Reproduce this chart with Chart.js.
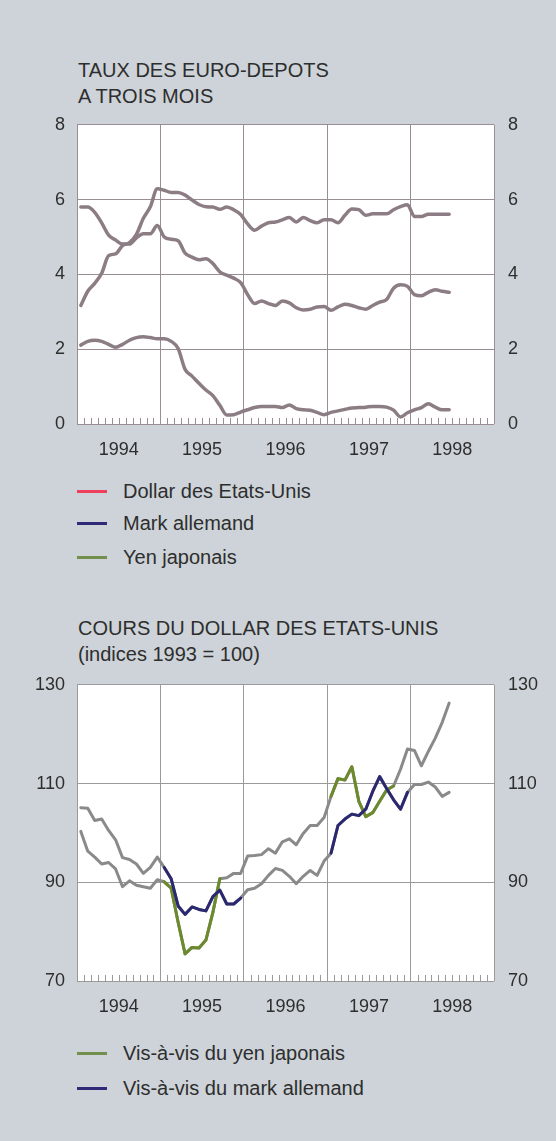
<!DOCTYPE html>
<html>
<head>
<meta charset="utf-8">
<script src="https://cdn.jsdelivr.net/npm/chart.js@4.4.1/dist/chart.umd.min.js"></script>
<style>
    body {
        margin: 0;
        width: 556px;
        height: 1141px;
        overflow: hidden;
        background: #cdd3d8;
        font-family: "Liberation Sans", Arial, sans-serif;
        color: #2e2e2e;
    }
    .title {
        position: absolute;
        left: 78px;
        font-size: 20px;
        line-height: 26px;
        white-space: nowrap;
    }
    .chart-box {
        position: absolute;
        left: 0;
        width: 556px;
        height: 370px;
    }
    .legend-item {
        position: absolute;
        left: 77px;
        font-size: 20px;
        line-height: 26px;
        white-space: nowrap;
    }
    .legend-line {
        display: inline-block;
        width: 30px;
        height: 3px;
        vertical-align: middle;
        margin-right: 16px;
        position: relative;
        top: -1px;
    }
</style>
</head>
<body>

<div class="title" style="top:57px">TAUX DES EURO-DEPOTS<br>A TROIS MOIS</div>
<div class="chart-box" style="top:100px"><canvas id="ratesChart" width="556" height="370"></canvas></div>
<div id="ratesLegend"></div>

<div class="title" style="top:615px">COURS DU DOLLAR DES ETATS-UNIS<br>(indices 1993 = 100)</div>
<div class="chart-box" style="top:660px"><canvas id="dollarChart" width="556" height="370"></canvas></div>
<div id="dollarLegend"></div>

<script>
// monthly data, Jan 1994 .. Jun 1998
var yearLabels = ['1994', '1995', '1996', '1997', '1998'];

// three-month euro-deposit rates (%)
var dollarRates = [3.17, 3.55, 3.76, 4.03, 4.50, 4.55, 4.77, 4.85, 5.07, 5.50, 5.81, 6.29,
    6.25, 6.19, 6.19, 6.12, 5.99, 5.87, 5.81, 5.80, 5.74, 5.80, 5.73, 5.60,
    5.35, 5.18, 5.29, 5.38, 5.40, 5.46, 5.52, 5.40, 5.52, 5.44, 5.38, 5.46,
    5.46, 5.38, 5.58, 5.75, 5.73, 5.58, 5.62, 5.62, 5.62, 5.73, 5.81, 5.86,
    5.55, 5.55, 5.61, 5.61, 5.61, 5.61];
var markRates = [5.80, 5.80, 5.66, 5.38, 5.05, 4.92, 4.81, 4.81, 4.98, 5.09, 5.09, 5.31,
    5.00, 4.94, 4.90, 4.57, 4.46, 4.39, 4.42, 4.29, 4.07, 3.98, 3.90, 3.78,
    3.46, 3.22, 3.29, 3.22, 3.17, 3.29, 3.24, 3.11, 3.05, 3.07, 3.13, 3.14,
    3.04, 3.13, 3.20, 3.17, 3.11, 3.07, 3.17, 3.26, 3.33, 3.63, 3.72, 3.68,
    3.46, 3.43, 3.52, 3.59, 3.55, 3.52];
var yenRates = [2.11, 2.21, 2.24, 2.21, 2.13, 2.05, 2.13, 2.24, 2.31, 2.33, 2.31, 2.28,
    2.28, 2.21, 2.02, 1.46, 1.28, 1.09, 0.91, 0.76, 0.50, 0.24, 0.25, 0.32,
    0.38, 0.44, 0.47, 0.47, 0.47, 0.44, 0.51, 0.41, 0.38, 0.37, 0.31, 0.25,
    0.31, 0.35, 0.39, 0.43, 0.44, 0.45, 0.47, 0.47, 0.45, 0.37, 0.19, 0.30,
    0.38, 0.44, 0.54, 0.45, 0.38, 0.38];

// US dollar exchange rate (1993 = 100)
var yenIndex = [100.3, 96.3, 95.1, 93.7, 94.0, 92.7, 89.1, 90.3, 89.4, 89.1, 88.8, 90.5,
    90.1, 88.8, 81.9, 75.5, 76.8, 76.7, 78.3, 83.9, 90.7, 90.9, 91.8, 91.8,
    95.3, 95.4, 95.6, 96.8, 95.9, 98.2, 98.8, 97.6, 99.9, 101.5, 101.5, 103.1,
    107.4, 111.0, 110.7, 113.4, 106.4, 103.3, 104.1, 106.4, 108.7, 109.5, 112.9, 117.0,
    116.7, 113.6, 116.5, 119.2, 122.4, 126.3];
var markIndex = [105.1, 105.0, 102.5, 102.8, 100.5, 98.6, 95.0, 94.6, 93.7, 91.8, 93.0, 95.1,
    93.0, 90.7, 85.2, 83.5, 85.0, 84.5, 84.2, 87.1, 88.4, 85.6, 85.6, 86.8,
    88.5, 88.8, 89.7, 91.4, 92.8, 92.4, 91.2, 89.7, 91.2, 92.4, 91.4, 94.3,
    95.9, 101.5, 102.8, 103.8, 103.5, 104.8, 108.4, 111.4, 109.0, 106.7, 104.8, 108.2,
    109.8, 109.8, 110.3, 109.3, 107.4, 108.2];

// month ranges drawn in colour on the second chart
var yenHighlight = [[12, 20], [36, 45]];
var markHighlight = [[12, 23], [36, 47]];

var FONT = '"Liberation Sans", Arial, sans-serif';

function inRanges(i, ranges) {
    for (var k = 0; k < ranges.length; k++) {
        if (i >= ranges[k][0] && i <= ranges[k][1]) return true;
    }
    return false;
}

function toPoints(values, ranges) {
    return values.map(function (v, i) {
        var keep = !ranges || inRanges(i, ranges);
        return { x: i + 0.55, y: keep ? v : null };
    });
}

// white plot area + small monthly ticks along the bottom
var plotPlugin = {
    id: 'plotPlugin',
    beforeDraw: function (chart) {
        var a = chart.chartArea;
        var ctx = chart.ctx;
        ctx.save();
        ctx.fillStyle = '#fff';
        ctx.fillRect(a.left, a.top, a.right - a.left, a.bottom - a.top);
        ctx.restore();
    },
    beforeDatasetsDraw: function (chart, args, opts) {
        var a = chart.chartArea;
        var x = chart.scales.x;
        var ctx = chart.ctx;
        ctx.save();
        ctx.strokeStyle = opts.color;
        ctx.lineWidth = 1;
        ctx.beginPath();
        for (var m = 1; m < 60; m++) {
            if (m % 12 === 0) continue;
            var px = Math.round(x.getPixelForValue(m)) + 0.5;
            ctx.moveTo(px, a.bottom);
            ctx.lineTo(px, a.bottom - 6);
        }
        ctx.stroke();
        ctx.restore();
    }
};

function buildOptions(yMin, yMax, step, gridColor, topPad, xHeight) {
    var tickFont = { family: FONT, size: 18 };
    return {
        responsive: false,
        animation: false,
        layout: { padding: { top: topPad, left: 0, right: 0, bottom: 0 } },
        plugins: {
            legend: { display: false },
            tooltip: { enabled: false },
            plotPlugin: { color: gridColor }
        },
        elements: {
            point: { radius: 0 },
            line: { tension: 0, borderCapStyle: 'round', borderJoinStyle: 'round' }
        },
        scales: {
            x: {
                type: 'linear',
                min: 0,
                max: 60,
                afterFit: function (scale) { scale.height = xHeight; },
                border: { display: false },
                grid: {
                    drawTicks: false,
                    lineWidth: 1,
                    color: function (ctx) {
                        return ctx.tick && ctx.tick.value % 12 === 0 ? gridColor : 'rgba(0,0,0,0)';
                    }
                },
                ticks: {
                    stepSize: 6,
                    autoSkip: false,
                    maxRotation: 0,
                    padding: 15,
                    color: '#2e2e2e',
                    font: tickFont,
                    callback: function (value) {
                        if (value % 12 === 6) return yearLabels[(value - 6) / 12];
                        return '';
                    }
                }
            },
            y: {
                position: 'left',
                min: yMin,
                max: yMax,
                afterFit: function (scale) { scale.width = 77; },
                border: { display: false },
                grid: { drawTicks: false, color: gridColor, lineWidth: 1 },
                ticks: { stepSize: step, padding: 12, color: '#2e2e2e', font: tickFont }
            },
            y2: {
                position: 'right',
                min: yMin,
                max: yMax,
                afterFit: function (scale) { scale.width = 62; },
                border: { display: false },
                grid: { display: false, drawTicks: false },
                ticks: { stepSize: step, padding: 14, color: '#2e2e2e', font: tickFont }
            }
        }
    };
}

function renderRatesChart() {
    var ctx = document.getElementById('ratesChart').getContext('2d');
    var lineColor = '#8c7d84';
    var series = [dollarRates, markRates, yenRates];

    new Chart(ctx, {
        type: 'line',
        data: {
            datasets: series.map(function (values) {
                return {
                    data: toPoints(values),
                    borderColor: lineColor,
                    borderWidth: 3.5,
                    cubicInterpolationMode: 'monotone'
                };
            })
        },
        options: buildOptions(0, 8, 2, '#9a8d93', 18, 46),
        plugins: [plotPlugin]
    });

    renderLegend('ratesLegend', [
        { label: 'Dollar des Etats-Unis', color: '#ee3f5c', top: 478 },
        { label: 'Mark allemand', color: '#2f2a78', top: 510 },
        { label: 'Yen japonais', color: '#72904c', top: 544 }
    ]);
}

function renderDollarChart() {
    var ctx = document.getElementById('dollarChart').getContext('2d');
    var gray = '#8a8a8a';
    var green = '#6b8a2c';
    var blue = '#2b2872';

    new Chart(ctx, {
        type: 'line',
        data: {
            datasets: [
                { data: toPoints(markIndex, markHighlight), borderColor: blue, borderWidth: 3, spanGaps: false },
                { data: toPoints(yenIndex, yenHighlight), borderColor: green, borderWidth: 3, spanGaps: false },
                { data: toPoints(markIndex), borderColor: gray, borderWidth: 3 },
                { data: toPoints(yenIndex), borderColor: gray, borderWidth: 3 }
            ]
        },
        options: buildOptions(70, 130, 20, '#9a9a9a', 16, 49),
        plugins: [plotPlugin]
    });

    renderLegend('dollarLegend', [
        { label: 'Vis-à-vis du yen japonais', color: '#72904c', top: 1040 },
        { label: 'Vis-à-vis du mark allemand', color: '#2f2a78', top: 1075 }
    ]);
}

function renderLegend(id, items) {
    var legendHtml = '';
    for (var i = 0; i < items.length; i++) {
        legendHtml += '<div class="legend-item" style="top:' + items[i].top + 'px">' +
            '<span class="legend-line" style="background:' + items[i].color + '"></span>' +
            '<span class="legend-label">' + items[i].label + '</span>' +
            '</div>';
    }
    document.getElementById(id).innerHTML = legendHtml;
}

renderRatesChart();
renderDollarChart();
</script>
</body>
</html>
